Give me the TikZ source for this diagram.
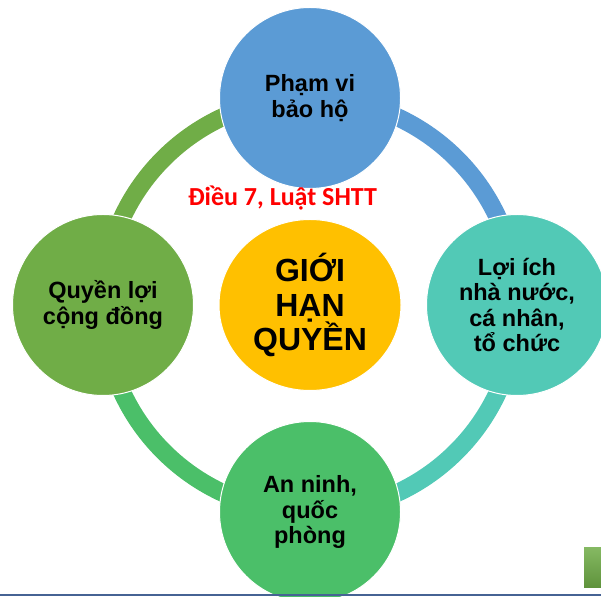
\documentclass[tikz,border=0pt]{standalone}
\usepackage{fontspec}
\setmainfont{Liberation Sans}
\newfontfamily\redfont{Carlito}
\usetikzlibrary{shapes.geometric}
\definecolor{topblue}{RGB}{91,155,213}
\definecolor{rightteal}{RGB}{82,201,182}
\definecolor{bottomgreen}{RGB}{75,191,105}
\definecolor{leftgreen}{RGB}{112,173,71}
\definecolor{hubgold}{RGB}{255,192,0}
\definecolor{slidebar}{RGB}{70,99,148}

\begin{document}
\begin{tikzpicture}[x=1pt,y=1pt,
  sat/.style={circle, draw=white, line width=1pt, minimum size=181pt, inner sep=0pt,
    align=center, font=\fontsize{23.5}{25.5}\selectfont\bfseries},
  hub/.style={ellipse, draw=white, line width=1pt, minimum width=182pt, minimum height=171pt,
    inner sep=0pt, align=center, fill=hubgold, font=\fontsize{32}{34.5}\selectfont\bfseries},
  ring/.style={line width=18pt}]

  \useasboundingbox (0,0) rectangle (601,596);

  % circles round the hub
  \coordinate (c) at (310,291);
  \coordinate (ntop) at (310,498);
  \coordinate (nright) at (517,291);
  \coordinate (nbottom) at (310,84);
  \coordinate (nleft) at (103,291);

  % ring pieces
  \draw[ring, leftgreen] (nleft) to[out=90,in=180] (ntop);
  \draw[ring, topblue] (ntop) to[out=0,in=90] (nright);
  \draw[ring, rightteal] (nright) to[out=-90,in=0] (nbottom);
  \draw[ring, bottomgreen] (nbottom) to[out=180,in=-90] (nleft);

  \node[sat, fill=topblue] (top) at (ntop) {Phạm vi\\bảo hộ};
  \node[sat, fill=rightteal] (right) at (nright) {Lợi ích\\nhà nước,\\cá nhân,\\tổ chức};
  \node[sat, fill=bottomgreen] (bottom) at (nbottom) {An ninh,\\quốc\\phòng};
  \node[sat, fill=leftgreen] (left) at (nleft) {Quyền lợi\\cộng đồng};

  \node[hub] (hub) at (c) {GIỚI\\HẠN\\QUYỀN};

  \node[anchor=base, text=red, font=\redfont\fontsize{26}{28}\selectfont\bfseries] (law) at (282.5,390) {Điều 7, Luật SHTT};

  % corner bits of the slide
  \shade[top color=leftgreen!85!white, bottom color=leftgreen!85!black] (584,9) rectangle (601,49);
  \draw[slidebar, line width=2pt] (0,1) -- (601,1);
\end{tikzpicture}
\end{document}
